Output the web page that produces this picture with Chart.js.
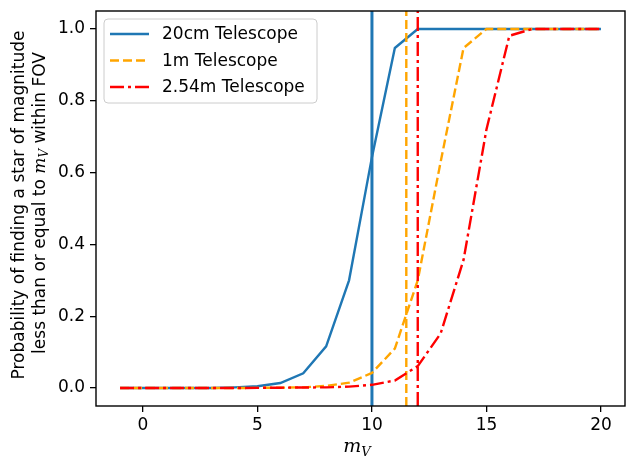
<!DOCTYPE html>
<html>
<head>
<meta charset="utf-8">
<script src="https://cdn.jsdelivr.net/npm/chart.js@4/dist/chart.umd.min.js"></script>
<style>
html,body{margin:0;padding:0;background:#fff;}
#wrap{width:626px;height:460px;position:relative;}
</style>
</head>
<body>
<div id="wrap"><canvas id="c" width="626" height="460"></canvas></div>
<script>
// ---- data ----
const mags = [-1,0,1,2,3,4,5,6,7,8,9,10,11,12,13,14,15,16,17,18,19,20];
const p20cm = [0,0,0,0,0,0.002,0.005,0.014,0.041,0.116,0.30,0.643,0.947,1,1,1,1,1,1,1,1,1];
const p1m   = [0,0,0,0,0,0,0.0005,0.001,0.002,0.006,0.015,0.042,0.11,0.30,0.63,0.947,1,1,1,1,1,1];
const p254m = [0,0,0,0,0,0,0.0005,0.001,0.0015,0.002,0.004,0.009,0.021,0.061,0.152,0.357,0.72,0.981,1,1,1,1];
const limitMags = [10, 11.5, 12];          // vertical limiting-magnitude lines
const seriesNames = ["20cm Telescope", "1m Telescope", "2.54m Telescope"];
const xTicks = [0,5,10,15,20];
const yTicks = [0,0.2,0.4,0.6,0.8,1.0];
const xRange = [-2.05, 21.05];
const yRange = [-0.05, 1.05];

const colors = ["#1f77b4", "#ffa500", "#ff0000"];
const dashes = [[], [9,4], [14,4,3,4]];

function pts(ys){ return mags.map((m,i)=>({x:m,y:ys[i]})); }
function vline(x){ return [{x:x,y:yRange[0]},{x:x,y:yRange[1]}]; }

const datasets = [
  {data:pts(p20cm), borderColor:colors[0], borderWidth:2.4, borderDash:dashes[0], order:6},
  {data:vline(limitMags[0]), borderColor:colors[0], borderWidth:3, borderDash:dashes[0], order:5},
  {data:pts(p1m), borderColor:colors[1], borderWidth:2.4, borderDash:dashes[1], order:4},
  {data:vline(limitMags[1]), borderColor:colors[1], borderWidth:2.4, borderDash:dashes[1], order:3},
  {data:pts(p254m), borderColor:colors[2], borderWidth:2.4, borderDash:dashes[2], order:2},
  {data:vline(limitMags[2]), borderColor:colors[2], borderWidth:2.4, borderDash:dashes[2], order:1}
].map(d=>Object.assign({pointRadius:0, tension:0, fill:false, showLine:true}, d));

const SANS = '"DejaVu Sans", sans-serif';
const SERIF = '"DejaVu Serif", serif';

function drawRich(ctx, segs, cx, cy){
  let w = 0;
  segs.forEach(s=>{ctx.font=s.font; s.w=ctx.measureText(s.t).width; w+=s.w;});
  let x = cx - w/2;
  segs.forEach(s=>{ctx.font=s.font; ctx.fillText(s.t, x, cy + (s.dy||0)); x+=s.w;});
}

const decor = {
  id:'decor',
  afterDatasetsDraw(chart){
    const ctx = chart.ctx, a = chart.chartArea;
    ctx.save();
    ctx.strokeStyle = '#000'; ctx.lineWidth = 1.4; ctx.setLineDash([]);
    ctx.strokeRect(a.left, a.top, a.right-a.left, a.bottom-a.top);
    const lx=104, ly=19, lw=213, lh=84, r=4;
    ctx.beginPath();
    ctx.moveTo(lx+r,ly); ctx.lineTo(lx+lw-r,ly); ctx.quadraticCurveTo(lx+lw,ly,lx+lw,ly+r);
    ctx.lineTo(lx+lw,ly+lh-r); ctx.quadraticCurveTo(lx+lw,ly+lh,lx+lw-r,ly+lh);
    ctx.lineTo(lx+r,ly+lh); ctx.quadraticCurveTo(lx,ly+lh,lx,ly+lh-r);
    ctx.lineTo(lx,ly+r); ctx.quadraticCurveTo(lx,ly,lx+r,ly); ctx.closePath();
    ctx.fillStyle='rgba(255,255,255,0.8)'; ctx.fill();
    ctx.strokeStyle='#cccccc'; ctx.lineWidth=1; ctx.stroke();
    const rows=[34,60.5,87];
    seriesNames.forEach((n,i)=>{
      ctx.beginPath(); ctx.strokeStyle=colors[i]; ctx.lineWidth=2.4; ctx.setLineDash(dashes[i]);
      ctx.moveTo(110,rows[i]); ctx.lineTo(149,rows[i]); ctx.stroke();
      ctx.setLineDash([]);
      ctx.fillStyle='#000'; ctx.font='17px '+SANS; ctx.textBaseline='middle'; ctx.textAlign='left';
      ctx.fillText(n,162,rows[i]+1);
    });
    ctx.fillStyle='#000'; ctx.textBaseline='alphabetic'; ctx.textAlign='left';
    drawRich(ctx,[{t:'m',font:'italic 19px '+SERIF},{t:'V',font:'italic 13px '+SERIF,dy:4}],357,452);
    ctx.save();
    ctx.translate(24, 205); ctx.rotate(-Math.PI/2);
    drawRich(ctx,[{t:'Probability of finding a star of magnitude',font:'17px '+SANS}],0,0);
    ctx.restore();
    ctx.save();
    ctx.translate(45, 203); ctx.rotate(-Math.PI/2);
    drawRich(ctx,[
      {t:'less than or equal to ',font:'17px '+SANS},
      {t:'m',font:'italic 17px '+SERIF},
      {t:'V',font:'italic 12px '+SERIF,dy:3},
      {t:' within FOV',font:'17px '+SANS}
    ],0,0);
    ctx.restore();
    ctx.restore();
  }
};

new Chart(document.getElementById('c'), {
  type:'line',
  data:{datasets},
  plugins:[decor],
  options:{
    responsive:false, devicePixelRatio:1, animation:false,
    layout:{padding:{top:11,right:1,left:0,bottom:0}},
    plugins:{legend:{display:false}, tooltip:{enabled:false}},
    scales:{
      x:{type:'linear', min:xRange[0], max:xRange[1],
        afterBuildTicks:s=>{s.ticks=xTicks.map(v=>({value:v}));},
        afterFit:s=>{s.height=54; s.paddingLeft=0; s.paddingRight=0;},
        grid:{drawOnChartArea:false, drawTicks:true, tickLength:6, color:'#000', lineWidth:1.3},
        border:{display:false},
        ticks:{color:'#000', font:{family:SANS,size:17}, padding:3, maxRotation:0, autoSkip:false, callback:v=>String(v)}
      },
      y:{type:'linear', min:yRange[0], max:yRange[1],
        afterBuildTicks:s=>{s.ticks=yTicks.map(v=>({value:v}));},
        afterFit:s=>{s.width=96; s.paddingTop=0; s.paddingBottom=0;},
        grid:{drawOnChartArea:false, drawTicks:true, tickLength:6, color:'#000', lineWidth:1.3},
        border:{display:false},
        ticks:{color:'#000', font:{family:SANS,size:17}, padding:5, autoSkip:false, callback:v=>Number(v).toFixed(1)}
      }
    }
  }
});
</script>
</body>
</html>
